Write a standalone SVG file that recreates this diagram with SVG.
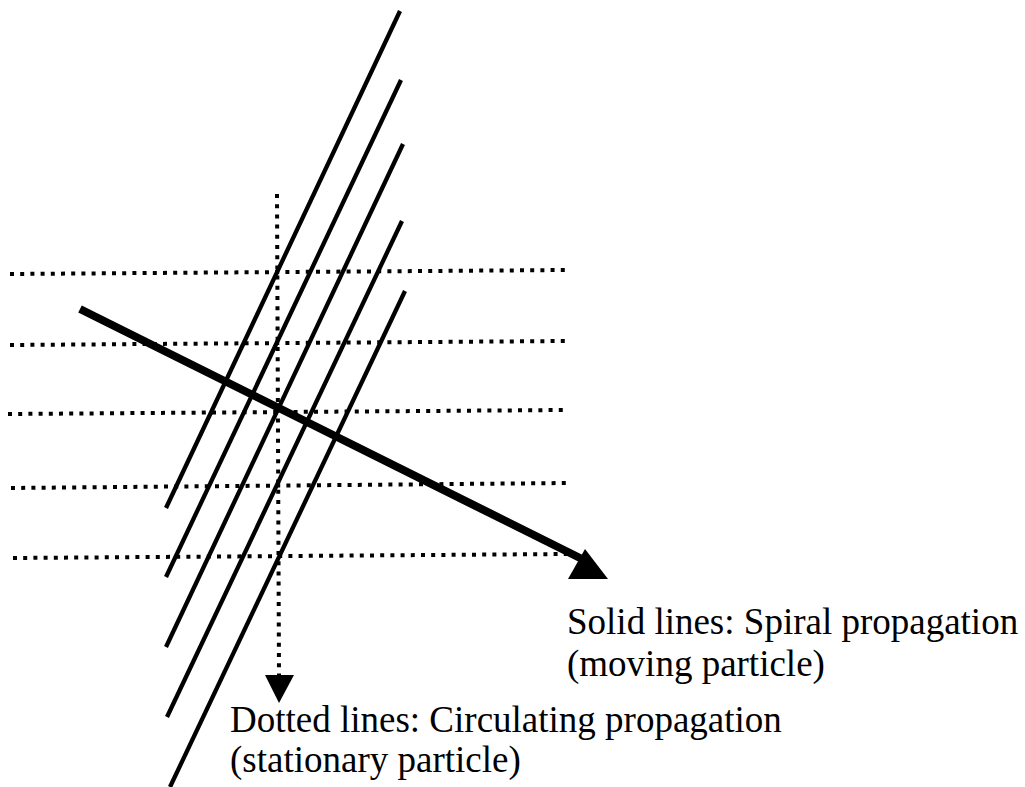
<svg xmlns="http://www.w3.org/2000/svg" width="1025" height="787" viewBox="0 0 1025 787">
<style>
.solid{stroke:#000;stroke-width:4.3;fill:none;stroke-linecap:butt}
.dot{stroke:#000;stroke-width:4;fill:none;stroke-dasharray:4 6.2}
.thick{stroke:#000;stroke-width:8;fill:none}
.head{fill:#000;stroke:none}
.lbl{font-family:"Liberation Serif","Times New Roman",serif;font-size:37px;fill:#000}
</style>
<rect width="1025" height="787" fill="#fff"/>
<g id="connectors">
<g id="dotted-horizontal">
<line class="dot" x1="10" y1="274" x2="566" y2="270"/>
<line class="dot" x1="10" y1="345" x2="566" y2="341"/>
<line class="dot" x1="8" y1="414" x2="564" y2="410"/>
<line class="dot" x1="11" y1="488" x2="567" y2="483"/>
<line class="dot" x1="13" y1="558" x2="568" y2="554"/>
</g>
<g id="dotted-vertical">
<line class="dot" x1="277" y1="194" x2="279" y2="676"/>
<polygon class="head" points="265,675 294,675 279,703"/>
</g>
<g id="solid-diagonal">
<line class="solid" x1="400" y1="11" x2="166" y2="508"/>
<line class="solid" x1="401" y1="80" x2="166" y2="577"/>
<line class="solid" x1="403" y1="144" x2="166" y2="647"/>
<line class="solid" x1="402" y1="221" x2="167" y2="717"/>
<line class="solid" x1="405" y1="291" x2="170" y2="787"/>
</g>
<g id="moving-arrow">
<line class="thick" x1="80" y1="309" x2="582" y2="559"/>
<polygon class="head" points="568,579 608,579 585,549"/>
</g>
</g>
<g id="label-solid">
<text class="lbl" x="567" y="634">Solid lines: Spiral propagation</text>
<text class="lbl" x="567" y="676">(moving particle)</text>
</g>
<g id="label-dotted">
<text class="lbl" x="230" y="732">Dotted lines: Circulating propagation</text>
<text class="lbl" x="230" y="772">(stationary particle)</text>
</g>
</svg>
